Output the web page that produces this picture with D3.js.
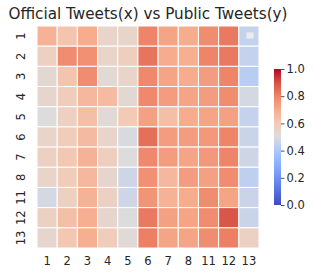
<!DOCTYPE html>
<html>
<head>
<meta charset="utf-8">
<script src="https://cdn.jsdelivr.net/npm/d3@7"></script>
<style>
  body { margin: 0; background: #fff; }
  svg { font-family: "DejaVu Sans", sans-serif; }
</style>
</head>
<body>
<div id="chart"></div>
<script>
// labels on both axes (x = official tweets, y = public tweets)
const labels = ["1", "2", "3", "4", "5", "6", "7", "8", "11", "12", "13"];

// one row per y label
const row1  = [0.68, 0.62, 0.70, 0.55, 0.55, 0.80, 0.72, 0.70, 0.78, 0.82, 0.45];
const row2  = [0.57, 0.78, 0.77, 0.55, 0.58, 0.83, 0.70, 0.69, 0.80, 0.82, 0.45];
const row3  = [0.53, 0.62, 0.78, 0.52, 0.55, 0.79, 0.72, 0.70, 0.74, 0.80, 0.43];
const row4  = [0.54, 0.59, 0.66, 0.65, 0.53, 0.79, 0.74, 0.72, 0.74, 0.78, 0.48];
const row5  = [0.50, 0.57, 0.64, 0.52, 0.60, 0.73, 0.64, 0.70, 0.72, 0.73, 0.45];
const row6  = [0.55, 0.59, 0.65, 0.55, 0.49, 0.84, 0.74, 0.74, 0.75, 0.80, 0.46];
const row7  = [0.57, 0.61, 0.68, 0.58, 0.50, 0.79, 0.74, 0.72, 0.75, 0.80, 0.47];
const row8  = [0.55, 0.59, 0.66, 0.54, 0.47, 0.77, 0.66, 0.74, 0.73, 0.78, 0.44];
const row11 = [0.48, 0.57, 0.68, 0.57, 0.47, 0.76, 0.68, 0.70, 0.78, 0.72, 0.46];
const row12 = [0.57, 0.64, 0.69, 0.54, 0.50, 0.82, 0.73, 0.72, 0.78, 0.89, 0.46];
const row13 = [0.54, 0.61, 0.69, 0.59, 0.52, 0.81, 0.72, 0.72, 0.78, 0.81, 0.57];
const rows = [row1, row2, row3, row4, row5, row6, row7, row8, row11, row12, row13];

const cbarTicks = [0.0, 0.2, 0.4, 0.6, 0.8, 1.0];

// coolwarm colormap stops
const cwStops = [0, 0.1, 0.2, 0.3, 0.4, 0.5, 0.6, 0.7, 0.8, 0.9, 1];
const cwColors = ["#3b4cc0", "#5470de", "#6f92f3", "#8caffe", "#aac7fd", "#dddcdc",
                  "#f2cbb7", "#f7ac8e", "#ee8468", "#d65244", "#b40426"];
const color = d3.scaleLinear().domain(cwStops).range(cwColors).interpolate(d3.interpolateRgb).clamp(true);

const width = 314, height = 275;
const svg = d3.select("#chart").append("svg").attr("width", width).attr("height", height);

// title
svg.append("text")
  .attr("x", 148).attr("y", 19)
  .attr("text-anchor", "middle")
  .attr("font-size", 15.2)
  .attr("fill", "#262626")
  .text("Official Tweets(x) vs Public Tweets(y)");

// heatmap
const x = d3.scaleBand().domain(labels).range([37, 259]);
const y = d3.scaleBand().domain(labels).range([26, 248]);

const cells = [];
rows.forEach((r, i) => r.forEach((v, j) => cells.push({ row: labels[i], col: labels[j], v })));

svg.append("g").selectAll("rect")
  .data(cells)
  .join("rect")
  .attr("x", d => x(d.col))
  .attr("y", d => y(d.row))
  .attr("width", x.bandwidth())
  .attr("height", y.bandwidth())
  .attr("fill", d => color(d.v))
  .attr("stroke", "#fff")
  .attr("stroke-width", 1);

// empty legend box left in the corner
svg.append("rect")
  .attr("x", 246).attr("y", 32).attr("width", 8).attr("height", 7).attr("rx", 1.5)
  .attr("fill", "#e8ebf3").attr("stroke", "#cfd3dc").attr("stroke-width", 0.8);

// axes
const xAxis = svg.append("g")
  .attr("transform", "translate(0,248)")
  .call(d3.axisBottom(x).tickSize(0).tickPadding(9));
xAxis.select(".domain").remove();
xAxis.selectAll("text").attr("font-size", 11.5).attr("fill", "#262626").attr("font-family", "DejaVu Sans");

const yAxis = svg.append("g")
  .attr("transform", "translate(37,0)")
  .call(d3.axisLeft(y).tickSize(0));
yAxis.select(".domain").remove();
yAxis.selectAll("text")
  .attr("font-size", 11.5).attr("fill", "#262626").attr("font-family", "DejaVu Sans")
  .attr("x", null).attr("dy", null)
  .attr("text-anchor", "middle")
  .attr("transform", "translate(-16,0) rotate(-90)")
  .attr("dominant-baseline", "central");

// colorbar
const cbX = 274, cbW = 7;
const cbY = d3.scaleLinear().domain([0, 1]).range([205, 69]);
const defs = svg.append("defs");
const grad = defs.append("linearGradient").attr("id", "cw")
  .attr("x1", 0).attr("y1", 1).attr("x2", 0).attr("y2", 0);
d3.range(0, 1.0001, 0.05).forEach(t => {
  grad.append("stop").attr("offset", t).attr("stop-color", color(t));
});
svg.append("rect")
  .attr("x", cbX).attr("y", cbY(1)).attr("width", cbW).attr("height", cbY(0) - cbY(1))
  .attr("fill", "url(#cw)");

const cAxis = svg.append("g")
  .attr("transform", `translate(${cbX + cbW},0)`)
  .call(d3.axisRight(cbY).tickValues(cbarTicks).tickFormat(d3.format(".1f")).tickSize(3.5).tickPadding(2));
cAxis.select(".domain").remove();
cAxis.selectAll("line").attr("stroke", "#262626").attr("stroke-width", 0.8);
cAxis.selectAll("text").attr("font-size", 11.5).attr("fill", "#262626").attr("font-family", "DejaVu Sans");
</script>
</body>
</html>
